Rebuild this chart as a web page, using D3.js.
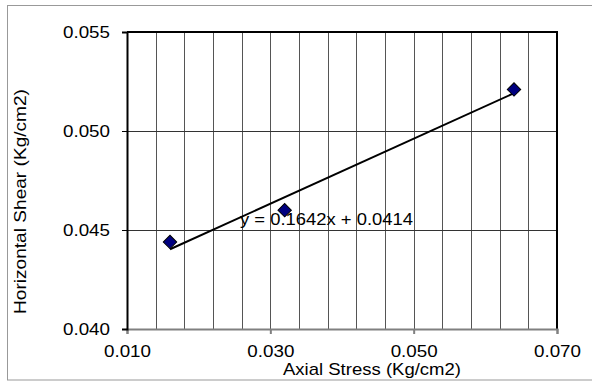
<!DOCTYPE html>
<html>
<head>
<meta charset="utf-8">
<script src="https://cdn.jsdelivr.net/npm/d3@7"></script>
<style>
  body { margin: 0; background: #fff; }
  text { font-family: "Liberation Sans", Arial, sans-serif; fill: #000; }
</style>
</head>
<body>
<div id="chart"></div>
<script>
// data
const axialStress = [0.016, 0.032, 0.064];
const horizontalShear = [0.0444, 0.0460, 0.0521];
const xTicks = [0.010, 0.030, 0.050, 0.070];
const yTicks = [0.040, 0.045, 0.050, 0.055];
const slope = 0.1642;
const intercept = 0.0414;
const equationLabel = "y = 0.1642x + 0.0414";

const svgWidth = 592;
const svgHeight = 382;

const margin = { top: 32, right: 35, bottom: 53, left: 127 };
const width = svgWidth - margin.left - margin.right;
const height = svgHeight - margin.top - margin.bottom;

const svg = d3.select("#chart")
  .append("svg")
  .attr("width", svgWidth)
  .attr("height", svgHeight);

// outer chart border
svg.append("rect")
  .attr("x", 7.5)
  .attr("y", 5.5)
  .attr("width", 600)
  .attr("height", 374.5)
  .attr("fill", "none")
  .attr("stroke", "#999")
  .attr("stroke-width", 1);

const chartGroup = svg.append("g")
  .attr("transform", `translate(${margin.left}, ${margin.top})`);

const x = d3.scaleLinear().domain([0.010, 0.070]).range([0, width]);
const y = d3.scaleLinear().domain([0.040, 0.055]).range([height, 0]);

// vertical gridlines every 0.004
chartGroup.append("g")
  .selectAll("line")
  .data(d3.range(1, 15).map(i => 0.010 + i * 0.004))
  .enter()
  .append("line")
  .attr("x1", d => Math.round(x(d)) + 0.5)
  .attr("x2", d => Math.round(x(d)) + 0.5)
  .attr("y1", 0)
  .attr("y2", height)
  .attr("stroke", "#555")
  .attr("stroke-width", 1);

// horizontal gridlines
chartGroup.append("g")
  .selectAll("line")
  .data(yTicks.slice(1, -1))
  .enter()
  .append("line")
  .attr("x1", 0)
  .attr("x2", width)
  .attr("y1", d => Math.round(y(d)) + 0.5)
  .attr("y2", d => Math.round(y(d)) + 0.5)
  .attr("stroke", "#333")
  .attr("stroke-width", 1);

// plot frame (top / right)
chartGroup.append("path")
  .attr("d", `M0,0H${width}V${height}`)
  .attr("fill", "none")
  .attr("stroke", "#000")
  .attr("stroke-width", 2);

// x axis
const xAxis = chartGroup.append("g")
  .attr("transform", `translate(0, ${height})`)
  .call(d3.axisBottom(x).tickValues(xTicks).tickFormat(d3.format(".3f")).tickSize(5).tickPadding(0));
xAxis.select(".domain").attr("stroke", "#808080").attr("stroke-width", 2);
xAxis.selectAll(".tick line").attr("stroke", "#808080").attr("stroke-width", 2);
xAxis.selectAll("text")
  .attr("y", 28).attr("dy", null)
  .attr("font-size", 17)
  .attr("textLength", 47).attr("lengthAdjust", "spacingAndGlyphs")
  .style("font-family", "Liberation Sans, Arial, sans-serif");

// y axis
const yAxis = chartGroup.append("g")
  .call(d3.axisLeft(y).tickValues(yTicks).tickFormat(d3.format(".3f")).tickSize(5).tickPadding(12));
yAxis.select(".domain").attr("stroke", "#000").attr("stroke-width", 2);
yAxis.selectAll(".tick line").attr("stroke", "#000");
yAxis.selectAll("text")
  .attr("font-size", 17)
  .attr("x", -17)
  .attr("textLength", 47).attr("lengthAdjust", "spacingAndGlyphs")
  .style("font-family", "Liberation Sans, Arial, sans-serif");

// trendline
const xMin = d3.min(axialStress), xMax = d3.max(axialStress);
chartGroup.append("line")
  .attr("x1", x(xMin))
  .attr("y1", y(slope * xMin + intercept))
  .attr("x2", x(xMax))
  .attr("y2", y(slope * xMax + intercept))
  .attr("stroke", "#000")
  .attr("stroke-width", 2);

// markers
const points = axialStress.map((d, i) => ({ x: d, y: horizontalShear[i] }));
chartGroup.selectAll(".pt")
  .data(points)
  .enter()
  .append("path")
  .attr("class", "pt")
  .attr("d", d3.symbol().type(d3.symbolSquare).size(90))
  .attr("transform", d => `translate(${x(d.x)}, ${y(d.y)}) rotate(45)`)
  .attr("fill", "#000080")
  .attr("stroke", "#000")
  .attr("stroke-width", 1);

// equation
chartGroup.append("text")
  .attr("x", 113)
  .attr("y", 193)
  .attr("font-size", 16.5)
  .attr("textLength", 173).attr("lengthAdjust", "spacingAndGlyphs")
  .text(equationLabel);

// axis labels
svg.append("text")
  .attr("x", 283)
  .attr("y", 375)
  .attr("font-size", 17)
  .attr("textLength", 178).attr("lengthAdjust", "spacingAndGlyphs")
  .text("Axial Stress (Kg/cm2)");

svg.append("text")
  .attr("transform", "translate(26, 314) rotate(-90)")
  .attr("font-size", 17)
  .attr("textLength", 225).attr("lengthAdjust", "spacingAndGlyphs")
  .text("Horizontal Shear (Kg/cm2)");
</script>
</body>
</html>
